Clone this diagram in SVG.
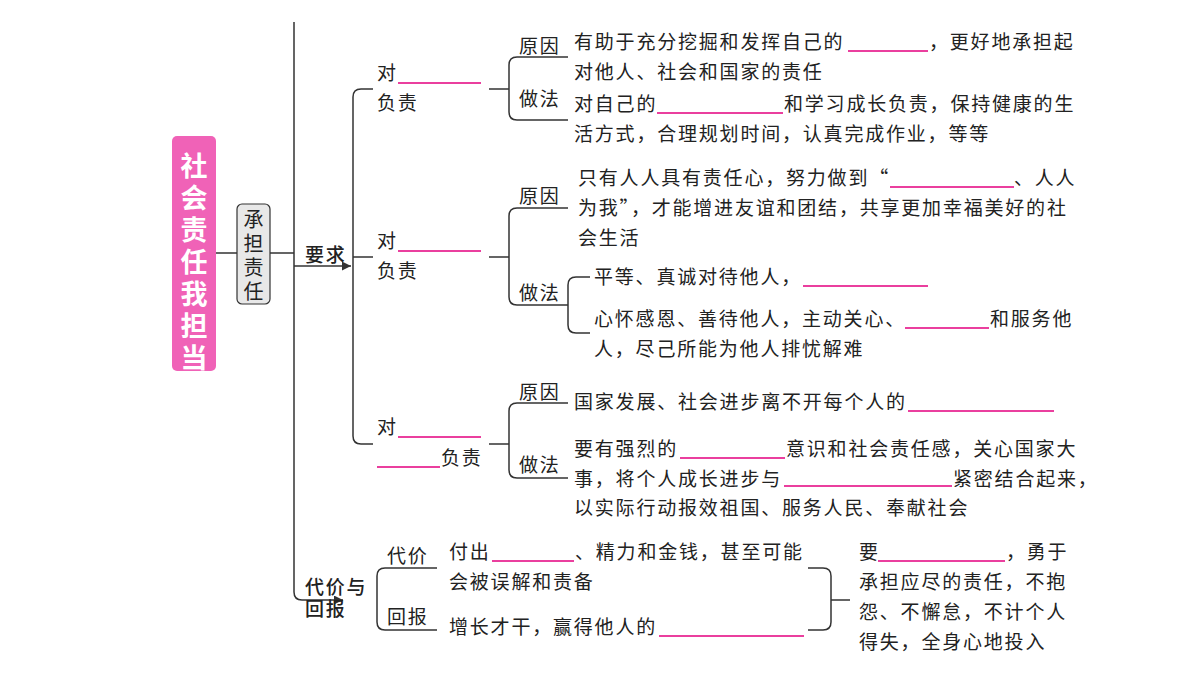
<svg xmlns="http://www.w3.org/2000/svg" width="1200" height="675" viewBox="0 0 1200 675">
<style>
text{font-family:"Noto Sans CJK SC","Noto Sans",sans-serif;font-size:19px;letter-spacing:1.8px;fill:#222}
.l{fill:none;stroke:#333;stroke-width:1.5}
.p{stroke:#e4007f;stroke-width:1.3}
.w{font-size:27px;fill:#fff;font-weight:bold;letter-spacing:0}
.c{font-size:20px;letter-spacing:0}
</style>
<defs><marker id="a" markerWidth="8" markerHeight="8" refX="6" refY="3" orient="auto"><path d="M0,0L6,3L0,6z" fill="#333"/></marker></defs>
<rect width="1200" height="675" fill="#fff"/>
<g id="root"><rect x="172" y="136" width="44" height="235" rx="5" fill="#f062b7"/>
<text class="w" x="194" y="176" text-anchor="middle">社</text>
<text class="w" x="194" y="208" text-anchor="middle">会</text>
<text class="w" x="194" y="240" text-anchor="middle">责</text>
<text class="w" x="194" y="272" text-anchor="middle">任</text>
<text class="w" x="194" y="304" text-anchor="middle">我</text>
<text class="w" x="194" y="336" text-anchor="middle">担</text>
<text class="w" x="194" y="368" text-anchor="middle">当</text></g>
<g id="chengdan"><rect x="237" y="204" width="33" height="100" rx="5" fill="#e8e8e8" stroke="#333" stroke-width="1.2"/>
<text class="c" x="253.5" y="227" text-anchor="middle">承</text>
<text class="c" x="253.5" y="251" text-anchor="middle">担</text>
<text class="c" x="253.5" y="275" text-anchor="middle">责</text>
<text class="c" x="253.5" y="299" text-anchor="middle">任</text></g>
<g id="connectors">
<path class="l" d="M216 253H237M270 253H294M294 22V592Q294 600 302 600H343" marker-end="url(#a)"/>
<path class="l" d="M294 266H351" marker-end="url(#a)"/>
<path class="l" d="M373 89H361Q353 89 353 97V436Q353 444 361 444H373M353 257H373"/>
<path class="l" d="M489 89H509M568 57H517Q509 57 509 65V112Q509 120 517 120H568"/>
<path class="l" d="M489 257H509M568 208H517Q509 208 509 216V297Q509 305 517 305H568"/>
<path class="l" d="M590 277H576Q568 277 568 285V325Q568 333 576 333H590"/>
<path class="l" d="M489 444H509M568 403H517Q509 403 509 411V470Q509 478 517 478H568"/>
<path class="l" d="M437 568H385Q377 568 377 576V622Q377 630 385 630H437"/>
<path class="l" d="M808 568H823Q831 568 831 576V622Q831 630 823 630H808M831 600H850"/>
<g class="p"><path d="M398 83H481M398 251H481M398 437H481M377 467H440"/>
<path d="M848 51H928M657 113H783M890 187H1014M803 286H928M905 328H989M908 411H1054M680 458H785M784 486H952M492 561H574M878 561H1005M659 636H804"/></g>
</g>
<g id="labels">
<text style="font-weight:500" x="305" y="262">要求</text>
<text style="font-weight:500" x="305" y="594">代价与</text><text style="font-weight:500" x="305" y="616">回报</text>
<text x="377" y="80">对</text><text x="377" y="110">负责</text>
<text x="377" y="248">对</text><text x="377" y="278">负责</text>
<text x="377" y="434">对</text><text x="441" y="465">负责</text>
<text x="519" y="53">原因</text><text x="519" y="106">做法</text>
<text x="519" y="203">原因</text><text x="519" y="300">做法</text>
<text x="519" y="399">原因</text><text x="519" y="472">做法</text>
<text x="387" y="563">代价</text><text x="387" y="624">回报</text>
</g>
<g id="texts">
<text x="574" y="49">有助于充分挖掘和发挥自己的<tspan x="929">，更好地承担起</tspan></text>
<text x="574" y="79">对他人、社会和国家的责任</text>
<text x="574" y="111">对自己的<tspan x="784">和学习成长负责，保持健康的生</tspan></text>
<text x="574" y="141">活方式，合理规划时间，认真完成作业，等等</text>
<text x="578" y="185">只有人人具有责任心，努力做到“<tspan x="1014">、人人</tspan></text>
<text x="578" y="215">为我”，才能增进友谊和团结，共享更加幸福美好的社</text>
<text x="578" y="245">会生活</text>
<text x="594" y="284">平等、真诚对待他人，</text>
<text x="594" y="326">心怀感恩、善待他人，主动关心、<tspan x="990">和服务他</tspan></text>
<text x="594" y="356">人，尽己所能为他人排忧解难</text>
<text x="574" y="409">国家发展、社会进步离不开每个人的</text>
<text x="574" y="456">要有强烈的<tspan x="786">意识和社会责任感，关心国家大</tspan></text>
<text x="574" y="486">事，将个人成长进步与<tspan x="953">紧密结合起来，</tspan></text>
<text x="574" y="515">以实际行动报效祖国、服务人民、奉献社会</text>
<text x="449" y="559">付出<tspan x="575">、精力和金钱，甚至可能</tspan></text>
<text x="449" y="589">会被误解和责备</text>
<text x="449" y="634">增长才干，赢得他人的</text>
<text x="859" y="559">要<tspan x="1006">，勇于</tspan></text>
<text x="859" y="589">承担应尽的责任，不抱</text>
<text x="859" y="619">怨、不懈怠，不计个人</text>
<text x="859" y="649">得失，全身心地投入</text>
</g>
</svg>
